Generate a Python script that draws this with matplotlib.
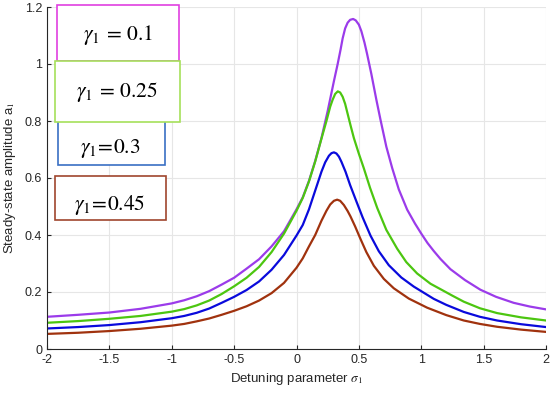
import numpy as np
import matplotlib
matplotlib.use("Agg")
import matplotlib.pyplot as plt
from matplotlib.patches import Rectangle

plt.rcParams['font.family'] = ['Liberation Sans', 'DejaVu Sans']
plt.rcParams['mathtext.fontset'] = 'stix'

# ---- curves ----
x_g01 = [-2.0, -1.75, -1.5, -1.25, -1.0, -0.9, -0.8, -0.7, -0.6, -0.5, -0.4, -0.3, -0.2, -0.1,
         0.0, 0.05, 0.1, 0.15, 0.2, 0.25, 0.3, 0.33, 0.353, 0.37, 0.39, 0.41, 0.43, 0.454, 0.475,
         0.5, 0.52, 0.545, 0.566, 0.6, 0.64, 0.673, 0.72, 0.767, 0.82, 0.887, 0.95, 1.0, 1.05,
         1.1, 1.154, 1.234, 1.35, 1.474, 1.6, 1.741, 1.87, 2.0]
a_g01 = [0.113, 0.120, 0.128, 0.141, 0.160, 0.171, 0.185, 0.203, 0.226, 0.250, 0.282, 0.315, 0.360, 0.413,
         0.490, 0.532, 0.590, 0.660, 0.740, 0.835, 0.940, 1.000, 1.050, 1.090, 1.125, 1.145, 1.155, 1.158, 1.153,
         1.138, 1.115, 1.075, 1.035, 0.965, 0.875, 0.805, 0.710, 0.635, 0.560, 0.489, 0.440, 0.405, 0.372,
         0.344, 0.316, 0.280, 0.242, 0.208, 0.183, 0.162, 0.149, 0.139]

x_g025 = [-2.0, -1.75, -1.5, -1.25, -1.0, -0.9, -0.8, -0.7, -0.6, -0.5, -0.4, -0.3, -0.2, -0.1,
          0.0, 0.05, 0.1, 0.15, 0.2, 0.24, 0.27, 0.29, 0.31, 0.331, 0.35, 0.37, 0.39, 0.41, 0.433,
          0.46, 0.5, 0.539, 0.59, 0.647, 0.72, 0.807, 0.88, 0.967, 1.074, 1.154, 1.25, 1.341, 1.47,
          1.608, 1.8, 2.0]
a_g025 = [0.092, 0.098, 0.106, 0.116, 0.131, 0.140, 0.153, 0.170, 0.193, 0.220, 0.250, 0.288, 0.340, 0.405,
          0.485, 0.530, 0.588, 0.658, 0.738, 0.800, 0.850, 0.875, 0.895, 0.904, 0.900, 0.885, 0.860, 0.825, 0.785,
          0.740, 0.685, 0.635, 0.565, 0.495, 0.418, 0.352, 0.305, 0.265, 0.229, 0.210, 0.187, 0.166, 0.143,
          0.126, 0.111, 0.100]

x_g03 = [-2.0, -1.75, -1.5, -1.25, -1.0, -0.9, -0.8, -0.7, -0.6, -0.5, -0.4, -0.3, -0.2, -0.1,
         0.0, 0.05, 0.1, 0.15, 0.2, 0.23, 0.26, 0.28, 0.3, 0.32, 0.34, 0.36, 0.393, 0.43, 0.48,
         0.53, 0.593, 0.66, 0.74, 0.84, 0.94, 1.1, 1.2, 1.341, 1.47, 1.608, 1.8, 2.0]
a_g03 = [0.072, 0.077, 0.084, 0.094, 0.108, 0.116, 0.127, 0.142, 0.162, 0.183, 0.207, 0.237, 0.278, 0.330,
         0.398, 0.435, 0.490, 0.556, 0.622, 0.655, 0.678, 0.687, 0.690, 0.686, 0.675, 0.657, 0.622, 0.575, 0.518,
         0.462, 0.398, 0.343, 0.294, 0.251, 0.219, 0.176, 0.155, 0.130, 0.113, 0.100, 0.087, 0.077]

x_g045 = [-2.0, -1.75, -1.5, -1.25, -1.0, -0.9, -0.8, -0.7, -0.6, -0.5, -0.4, -0.3, -0.2, -0.1,
          0.0, 0.05, 0.1, 0.15, 0.2, 0.24, 0.27, 0.3, 0.326, 0.35, 0.38, 0.41, 0.433, 0.47, 0.513,
          0.56, 0.62, 0.7, 0.78, 0.9, 1.047, 1.2, 1.341, 1.47, 1.608, 1.8, 2.0]
a_g045 = [0.053, 0.057, 0.063, 0.071, 0.082, 0.088, 0.097, 0.107, 0.120, 0.134, 0.150, 0.170, 0.196, 0.232,
          0.285, 0.318, 0.360, 0.400, 0.450, 0.485, 0.507, 0.520, 0.524, 0.520, 0.505, 0.484, 0.465, 0.430, 0.386,
          0.340, 0.292, 0.246, 0.213, 0.177, 0.145, 0.119, 0.100, 0.088, 0.078, 0.068, 0.060]

gammas = ['0.1', '0.25', '0.3', '0.45']
xticks = [-2, -1.5, -1, -0.5, 0, 0.5, 1, 1.5, 2]
yticks = [0, 0.2, 0.4, 0.6, 0.8, 1, 1.2]

fig = plt.figure(figsize=(5.5, 3.93), dpi=100)
ax = fig.add_axes([47/550, 1-349/393, (546-47)/550, (349-7)/393])

ax.plot(x_g01, a_g01, color='#9B3BEA', lw=1.6)
ax.plot(x_g025, a_g025, color='#4CC610', lw=1.6)
ax.plot(x_g03, a_g03, color='#0A0ADC', lw=1.6)
ax.plot(x_g045, a_g045, color='#A0320E', lw=1.6)

ax.set_xlim(-2, 2)
ax.set_ylim(0, 1.2)
ax.set_xticks(xticks)
ax.set_xticklabels([f'{t:g}' for t in xticks])
ax.set_yticks(yticks)
ax.set_yticklabels([f'{t:g}' for t in yticks])
ax.grid(True, color='#e6e6e6', lw=0.8)
ax.set_axisbelow(True)
for s in ['top', 'right']:
    ax.spines[s].set_visible(False)
for s in ['left', 'bottom']:
    ax.spines[s].set_color('#262626')
    ax.spines[s].set_linewidth(0.8)
ax.tick_params(direction='in', length=3, labelsize=9, colors='#262626')
ax.set_xlabel(r'Detuning parameter $\sigma_1$', fontsize=9.5, color='#262626', labelpad=4)
ax.set_ylabel(r'Steady-state amplitude a$_1$', fontsize=9.5, color='#262626', labelpad=5)

# text boxes (pixel boxes: left, top, right, bottom)
boxes = [(57, 5, 179, 61, '#E040E0', r'$\gamma_1\, =\, 0.1$', 118, 35),
         (58, 119, 165, 165, '#3A6FC4', r'$\gamma_1\!=\!0.3$', 110, 148),
         (55, 61, 180, 122, '#A6E05A', r'$\gamma_1\, =\, 0.25$', 117, 92),
         (55, 176, 166, 220, '#A0462D', r'$\gamma_1\!=\!0.45$', 110, 205)]
for l, t, r, b, ec, txt, cx, cy in boxes:
    fig.add_artist(Rectangle((l/550, 1-b/393), (r-l)/550, (b-t)/393, transform=fig.transFigure,
                             facecolor='white', edgecolor=ec, lw=1.2, zorder=5))
    fig.text(cx/550, 1-cy/393, txt, fontsize=15.5, ha='center', va='center', zorder=6)

fig.savefig('out.png', dpi=100)
